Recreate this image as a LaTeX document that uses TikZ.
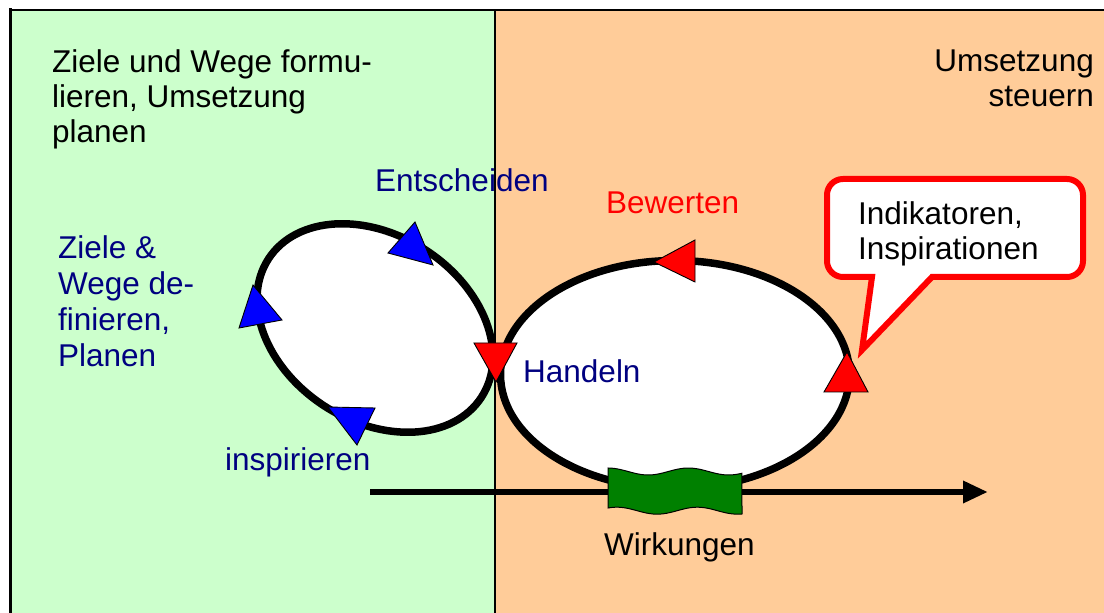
\documentclass[tikz,border=0pt]{standalone}
\usepackage{fontspec}
\setmainfont{Liberation Sans}
\usetikzlibrary{arrows.meta}
\definecolor{panelgreen}{HTML}{CCFFCC}
\definecolor{panelorange}{HTML}{FFCC99}
\definecolor{navyblue}{HTML}{000080}
\definecolor{flaggreen}{HTML}{008000}

\begin{document}
\begin{tikzpicture}[x=1pt,y=1pt,
  lbl/.style={inner sep=0pt, font=\fontsize{31.5}{35}\selectfont},
  ring/.style={draw=black, line width=7.5pt, fill=white},
  marker/.style={draw=black, line width=0.9pt, line join=miter},
]
\useasboundingbox (0,0) rectangle (1104,613);

% two panels with their frame
\fill[panelgreen] (10.5,0) rectangle (495,603);
\fill[panelorange] (495,0) rectangle (1104,603);
\draw[line width=1.8pt] (495,0) -- (495,603);
\draw[line width=2pt] (9,603) -- (1104,603);
\draw[line width=3pt] (10.5,0) -- (10.5,604.5);

% planning loop and steering loop
\draw[ring, rotate around={-33:(375,285)}] (375,285) ellipse [x radius=127, y radius=93];
\draw[ring] (675,238.5) ellipse [x radius=174.5, y radius=114];

% direction markers on the planning loop
\filldraw[marker, fill=blue] (415,391) -- (388,360) -- (433,348) -- cycle;
\filldraw[marker, fill=blue] (239,285) -- (253,328) -- (282,293) -- cycle;
\filldraw[marker, fill=blue] (328,206) -- (375,205) -- (357,168) -- cycle;
% direction markers on the steering loop
\filldraw[marker, fill=red] (474,270) -- (517,270) -- (496,231) -- cycle;
\filldraw[marker, fill=red] (654,351) -- (695,373) -- (695,331) -- cycle;
\filldraw[marker, fill=red] (824,221) -- (847,261) -- (868,221) -- cycle;

% time axis
\coordinate (flowStart) at (370,121);
\coordinate (flowEnd) at (988,121);
\draw[line width=6.5pt, -{Triangle[length=25pt,width=21pt]}] (flowStart) -- (flowEnd);

% waving flag for the effects
\filldraw[fill=flaggreen, draw=black, line width=1pt]
  plot[domain=0:1, samples=40, smooth] ({608+134*\x},{141.5+3.5*cos(600*\x)})
  -- plot[domain=1:0, samples=40, smooth] ({608+134*\x},{102.3+3.5*cos(600*\x-40)})
  -- cycle;

% speech bubble
\draw[draw=red, line width=6pt, fill=white, line join=miter]
  (843,434) -- (1067,434) arc[start angle=90, end angle=0, radius=16]
  -- (1083,352) arc[start angle=0, end angle=-90, radius=16]
  -- (932,336) -- (862,263) -- (872,336) -- (843,336)
  arc[start angle=270, end angle=180, radius=16]
  -- (827,418) arc[start angle=180, end angle=90, radius=16] -- cycle;

% labels (the base anchor of a multi-line label sits on its last line)
\node[lbl, anchor=base west, align=left] (goalsHead) at (52,470)
  {Ziele und Wege formu-\\lieren, Umsetzung\\planen};
\node[lbl, anchor=base east, align=right] (steerHead) at (1094,506)
  {Umsetzung\\steuern};
\node[lbl, anchor=base west, text=navyblue] (decide) at (375,421) {Entscheiden};
\node[lbl, anchor=base west, align=left, text=navyblue,
  font=\fontsize{31.5}{36.3}\selectfont] (define) at (58,246)
  {Ziele \&\\Wege de-\\finieren,\\Planen};
\node[lbl, anchor=base west, text=red] (assess) at (606,399) {Bewerten};
\node[lbl, anchor=base west, text=navyblue] (act) at (523,230) {Handeln};
\node[lbl, anchor=base west, text=navyblue] (inspire) at (225,142) {inspirieren};
\node[lbl, anchor=base west] (effects) at (604,57) {Wirkungen};
\node[lbl, anchor=base west, align=left] (indicators) at (858,353)
  {Indikatoren,\\Inspirationen};
\end{tikzpicture}
\end{document}
